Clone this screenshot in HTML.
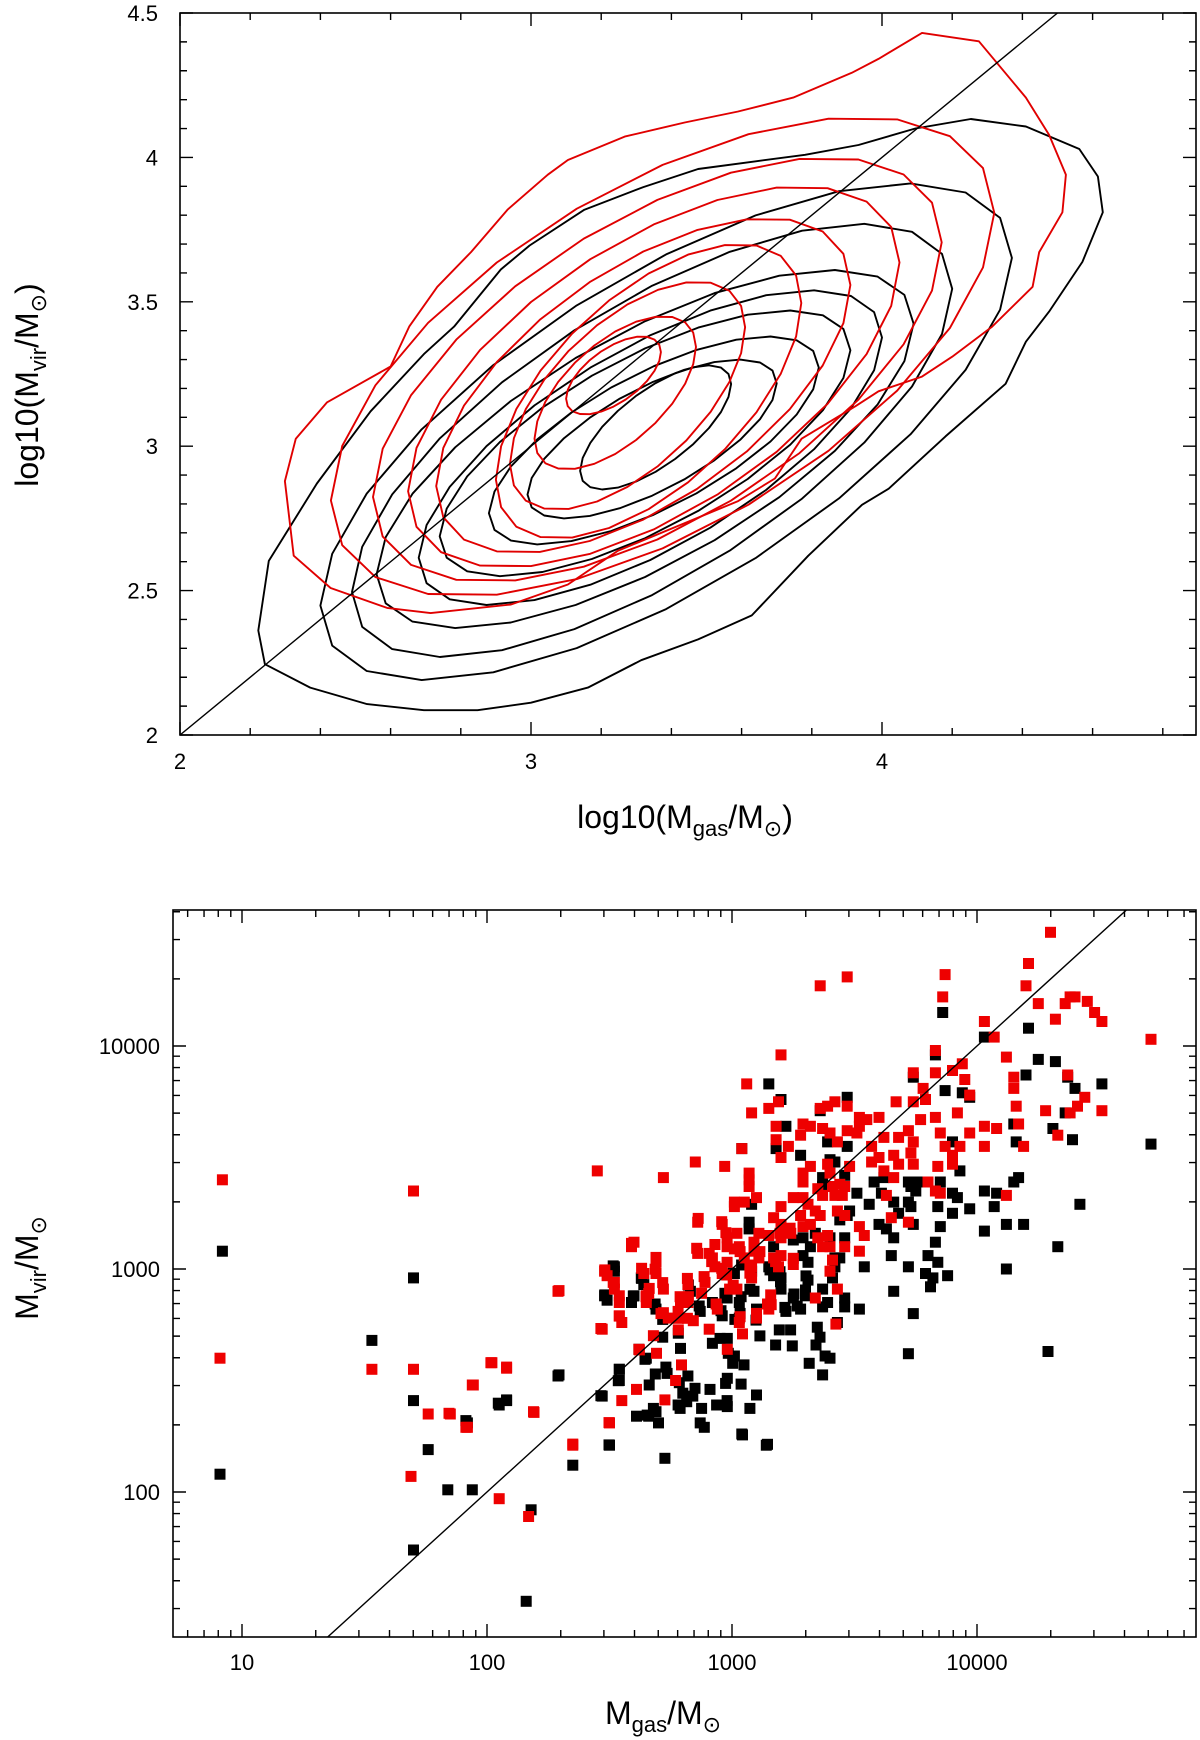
<!DOCTYPE html>
<html><head><meta charset="utf-8"><style>
html,body{margin:0;padding:0;background:#fff;}
svg{display:block;font-family:"Liberation Sans",sans-serif;}
</style></head><body>
<svg id="fig" width="1200" height="1740" viewBox="0 0 1200 1740" xmlns="http://www.w3.org/2000/svg">
<defs>
<clipPath id="clipTop"><rect x="180" y="13" width="1016" height="722"/></clipPath>
<clipPath id="clipBot"><rect x="173" y="910" width="1023" height="727"/></clipPath>
</defs>
<g id="panelTop"></g>
<g id="panelBot"></g>
</svg>
<script>
// ---------- TOP PANEL DATA (log10 masses) ----------
const blackOuterX=[2.242,2.371,2.533,2.695,2.848,3.000,3.162,3.314,3.476,3.629,3.790,3.943,4.019,4.181,4.352,4.410,4.476,4.571,4.629,4.615,4.562,4.410,4.253,4.095,3.933,3.781,3.638,3.476,3.320,3.152,2.996,2.914,2.781,2.695,2.543,2.390,2.253,2.223];
const blackOuterY=[2.245,2.164,2.107,2.086,2.086,2.112,2.164,2.259,2.331,2.414,2.621,2.797,2.853,3.034,3.216,3.362,3.466,3.638,3.810,3.934,4.029,4.107,4.133,4.100,4.043,4.009,3.986,3.960,3.897,3.819,3.695,3.612,3.414,3.319,3.121,2.871,2.603,2.362];
const redOuterX=[2.324,2.299,2.330,2.419,2.600,2.653,2.733,2.829,2.933,3.048,3.105,3.267,3.438,3.590,3.747,3.914,3.990,4.114,4.276,4.410,4.476,4.524,4.514,4.448,4.429,4.314,4.200,4.114,3.990,3.924,3.771,3.695,3.590,3.419,3.248,3.105,2.943,2.714,2.590,2.429];
const redOuterY=[2.621,2.879,3.026,3.152,3.276,3.414,3.552,3.672,3.819,3.940,3.991,4.072,4.121,4.159,4.207,4.293,4.341,4.431,4.402,4.207,4.078,3.940,3.810,3.672,3.552,3.414,3.310,3.241,3.190,3.138,3.026,2.888,2.810,2.724,2.638,2.521,2.452,2.422,2.440,2.509];
const blackXmin=[2.40,2.49,2.56,2.68,2.74,2.88,2.99,3.14];
const blackXmax=[4.37,4.20,4.09,4.00,3.91,3.82,3.70,3.57];
const blackYmin=[2.19,2.27,2.37,2.45,2.55,2.66,2.75,2.85];
const blackYmax=[3.91,3.77,3.61,3.54,3.47,3.38,3.30,3.28];
const redXmin=[2.43,2.55,2.65,2.73,2.90,2.94,3.01,3.10];
const redXmax=[4.32,4.17,4.05,3.91,3.77,3.61,3.47,3.37];
const redYmin=[2.48,2.53,2.58,2.63,2.68,2.78,2.92,3.11];
const redYmax=[4.14,4.00,3.90,3.79,3.70,3.57,3.45,3.38];
const blackTilt=0.70, redTilt=0.60;
const topXTicks=[2,3,4];
const topYTicks=[2,2.5,3,3.5,4,4.5];
const topYTickLabels=["2","2.5","3","3.5","4","4.5"];

// ---------- BOTTOM PANEL DATA (log10 of M_gas, M_vir) ----------
const redLogGas=[4.30,4.21,4.20,4.25,4.36,4.40,4.32,3.87,3.86,3.47,3.36,4.03,4.07,3.83,4.12,3.20,3.06,4.15,4.15,4.16,4.17,4.19,4.28,4.37,4.38,4.33,4.03,4.03,4.08,4.12,3.94,3.95,3.97,3.92,3.97,3.93,3.90,3.78,3.74,3.83,3.67,3.74,3.79,3.77,3.83,3.85,3.87,3.90,3.90,3.84,3.72,3.68,3.74,3.73,3.66,3.68,3.74,3.66,3.62,3.60,3.57,3.57,3.62,3.80,3.83,3.85,3.63,3.65,3.72,3.52,3.55,3.60,3.52,3.51,3.47,3.47,3.43,3.40,3.37,3.32,3.29,3.28,3.42,3.39,3.36,3.18,3.18,3.20,3.23,3.19,3.15,3.08,3.04,2.97,2.85,2.72,3.07,3.07,3.07,3.10,3.01,3.01,3.05,3.20,3.17,3.25,3.29,3.29,3.29,3.32,3.39,3.40,3.35,3.37,3.41,3.44,3.46,3.42,3.45,3.48,3.43,3.46,3.31,3.34,3.28,3.36,3.32,3.29,3.20,3.24,3.20,3.11,3.15,3.09,3.02,2.98,2.93,2.96,2.86,3.03,3.01,2.98,3.05,3.09,3.11,2.92,2.86,2.93,2.98,2.96,2.99,3.02,3.08,3.08,3.17,3.20,3.19,3.25,3.35,3.37,3.39,3.40,3.46,3.52,3.54,3.52,3.41,3.40,3.43,3.34,3.16,3.15,3.10,3.03,2.89,2.82,2.79,2.82,2.78,2.71,2.74,2.66,2.65,2.72,2.69,2.69,2.64,2.59,2.52,2.49,2.54,2.55,2.94,
0.92,0.91,1.70,1.53,1.70,1.76,1.85,1.92,1.94,2.02,2.08,2.19,1.69,2.05,2.17,2.29,2.35,2.48,2.50,2.60,2.45,2.52,2.54,2.54,2.47,2.65,2.62,2.77,2.61,2.55,
4.71,4.48,4.51,4.38,4.45,4.41,4.51,4.44];
const redLogVir=[4.51,4.37,4.27,4.19,4.19,4.22,4.12,4.32,4.22,4.31,4.27,4.11,4.04,3.98,3.95,3.96,3.83,3.86,3.81,3.73,3.65,3.55,3.71,3.87,3.70,3.60,3.64,3.55,3.63,3.33,3.92,3.85,3.78,3.70,3.61,3.55,3.89,3.81,3.88,3.88,3.75,3.75,3.76,3.67,3.68,3.61,3.55,3.51,3.47,3.46,3.62,3.59,3.57,3.52,3.51,3.47,3.47,3.41,3.44,3.50,3.48,3.55,3.59,3.39,3.35,3.34,3.33,3.23,3.21,3.68,3.67,3.68,3.64,3.61,3.62,3.73,3.57,3.61,3.63,3.64,3.65,3.60,3.75,3.73,3.72,3.64,3.58,3.50,3.55,3.75,3.72,3.70,3.54,3.46,3.48,3.41,3.43,3.40,3.37,3.32,3.30,3.28,3.30,3.28,3.23,3.32,3.32,3.43,3.39,3.46,3.47,3.43,3.36,3.33,3.37,3.38,3.37,3.33,3.33,3.46,3.26,3.24,3.29,3.26,3.24,3.24,3.20,3.19,3.20,3.16,3.14,3.16,3.15,3.12,3.16,3.14,3.11,3.20,3.21,3.10,3.09,3.10,3.05,3.08,3.05,3.05,3.07,3.01,3.03,2.98,2.91,2.91,3.01,2.96,3.05,3.06,3.01,3.02,3.14,3.10,3.15,3.10,3.10,3.19,3.15,3.08,3.04,2.99,2.91,2.87,2.84,2.82,2.78,2.76,2.94,2.93,2.85,2.85,2.81,2.80,2.78,2.89,2.85,2.91,3.03,2.98,2.98,3.10,2.91,2.97,2.85,2.76,2.82,
3.40,2.60,3.35,2.55,2.55,2.35,2.35,2.29,2.48,2.58,2.56,2.36,2.07,1.97,1.89,2.90,2.21,2.99,2.31,3.12,3.44,2.94,2.88,2.79,2.73,2.88,2.64,2.50,2.46,2.41,
4.03,4.15,4.11,4.22,4.20,3.73,3.71,3.77];
const blackLogGas=[3.86,4.21,4.03,4.25,4.32,4.20,4.40,4.37,4.31,4.36,4.39,4.42,4.33,4.12,4.19,4.12,4.03,4.08,4.03,4.07,4.15,4.17,4.16,4.15,3.97,3.93,3.92,3.90,3.90,3.84,3.85,3.90,3.94,3.97,3.87,3.83,3.74,3.85,3.83,3.80,3.84,3.88,3.79,3.82,3.81,3.74,3.72,3.66,3.65,3.66,3.63,3.60,3.74,3.73,3.72,3.73,3.75,3.72,3.76,3.66,3.68,3.62,3.61,3.58,3.56,3.51,3.54,3.52,3.46,3.48,3.44,3.46,3.46,3.43,3.42,3.41,3.39,3.37,3.37,3.31,3.30,3.28,3.25,3.22,3.20,3.20,3.17,3.15,3.17,3.25,3.29,3.31,3.29,3.32,3.34,3.40,3.42,3.44,3.47,3.47,3.47,3.42,3.40,3.46,3.39,3.37,3.37,3.36,3.28,3.20,3.22,3.18,3.15,3.04,3.08,3.07,3.07,3.08,3.09,3.03,3.10,3.03,3.01,2.98,2.87,2.96,2.83,2.92,2.69,2.64,2.59,2.52,2.49,
0.92,0.91,1.53,1.70,1.70,1.76,1.92,2.05,2.08,2.29,2.35,2.47,2.50,2.54,2.54,2.52,2.48,2.60,2.63,2.62,2.65,2.66,1.70,1.84,1.94,2.18,2.16,
2.91,2.98,3.04,3.14,2.84,2.87,3.01,3.72,3.38,2.61,2.70,2.73,2.78,2.82,4.51,4.71,4.29];
const blackLogVir=[4.15,4.08,4.04,3.94,3.93,3.87,3.81,3.86,3.63,3.70,3.58,3.29,3.10,3.00,3.20,3.20,3.17,3.34,3.35,3.28,3.39,3.41,3.57,3.65,3.27,3.44,3.32,3.34,3.25,3.28,3.39,3.57,3.79,3.77,3.80,3.96,3.86,3.19,3.12,3.06,3.03,2.97,2.98,2.96,2.92,2.80,3.01,2.90,3.06,3.14,3.18,3.20,3.20,3.28,3.30,3.37,3.35,3.39,3.39,3.30,3.25,3.41,3.34,3.39,3.29,3.34,3.01,2.82,3.14,3.26,3.22,2.87,2.83,2.76,3.01,2.96,2.85,2.83,2.91,2.95,2.88,2.82,2.87,2.81,2.91,2.96,2.97,3.01,3.10,3.13,3.06,3.03,3.14,3.10,3.16,3.14,3.05,3.05,3.24,3.77,3.55,3.48,3.49,3.42,3.57,3.41,3.37,3.71,3.51,3.76,3.64,3.54,3.83,3.54,3.29,3.21,3.18,2.99,2.90,2.85,2.82,2.78,2.98,2.87,2.81,2.79,2.90,2.85,2.82,2.93,2.85,2.99,2.86,
3.08,2.08,2.68,2.96,2.41,2.19,2.31,2.39,2.41,2.52,2.12,2.43,2.21,2.55,2.50,3.01,2.88,2.88,2.96,2.64,2.60,2.34,1.74,2.01,2.01,1.92,1.51,
2.46,2.41,2.26,2.21,2.43,2.31,2.61,2.62,2.61,2.34,2.31,2.56,2.39,2.52,3.83,3.56,2.63];
// additional points read from the lower-middle of the cloud
const blackLowGas=[2.717,2.781,2.717,2.790,2.645,2.540,2.536,2.687,2.735,2.662,2.785,2.849,2.799,2.815,2.788,2.876,2.937,2.981,3.073,3.100,3.037,2.974,2.981,3.003,3.049,2.679,2.654,2.690,2.887,3.043,3.145,2.498,2.726,2.465,2.294,2.046,2.080,1.914,2.920,2.951,2.981,2.985,3.114,3.193,3.239,3.178,3.246,3.315,3.370,3.400,3.343,3.359,3.348,3.012,3.098,3.033,3.216,3.266,2.866,2.955,2.597,2.481,2.631,2.515,2.686,2.822,2.971,3.037,3.073,3.198,3.253,3.302,3.300,3.005,3.039,3.155,3.196];
const blackLowVir=[2.774,2.712,2.694,2.644,2.595,2.550,2.499,2.529,2.532,2.480,2.490,2.465,2.443,2.405,2.375,2.375,2.390,2.383,2.375,2.435,2.484,2.487,2.510,2.577,2.570,2.375,2.345,2.360,2.290,2.256,2.214,2.211,2.151,2.432,2.525,2.398,2.413,2.320,2.667,2.689,2.689,2.622,2.700,2.727,2.727,2.659,2.655,2.577,2.525,2.600,2.659,2.694,2.739,2.774,2.771,2.801,2.828,2.834,2.834,2.813,2.879,2.884,2.958,3.014,2.843,2.928,2.891,2.876,2.909,2.943,2.888,2.969,2.906,2.981,3.018,2.996,2.988];
const redLowGas=[2.540,2.465,2.679,2.622,2.692,2.794,2.907,3.043,2.981,3.033,3.100,2.781,2.781,2.818,2.842,2.720,2.935,2.016,2.080,1.944,1.845,1.914,2.192,2.498,2.350,2.726,3.145,3.424,
2.590,2.690,2.686,2.631,2.481,2.515,2.294,2.662,2.649,2.717,2.818,2.788,2.822,2.876,2.886,2.856,2.907,2.917,2.958,2.978,3.005,2.975,3.033,3.073,3.073,3.114,3.178,3.250,3.196,3.237,3.158,2.862,2.958];
const redLowVir=[2.789,2.733,2.701,2.637,2.622,2.570,2.730,2.709,2.640,2.786,2.801,2.727,2.779,2.779,2.768,2.804,2.843,2.580,2.555,2.480,2.353,2.290,2.357,2.311,2.215,2.413,2.843,2.753,
3.115,3.052,2.999,3.003,2.996,2.940,2.903,2.913,2.876,2.939,2.958,2.876,2.876,2.891,2.966,3.093,3.070,3.033,3.003,2.973,2.928,3.163,3.078,3.018,2.981,3.078,3.033,3.048,3.160,3.183,2.884,3.227,3.212];
const botXTicks=[1,2,3,4];
const botXTickLabels=["10","100","1000","10000"];
const botYTicks=[2,3,4];
const botYTickLabels=["100","1000","10000"];

// ---------- axis functions ----------
const TL=180,TR=1196,TT=13,TB=735;
function tx(v){return 180+(v-2)*351;}
function ty(v){return 735-(v-2)*288.8;}
const BL=173,BR=1196,BT=910,BB=1637;
function bx(l){return 242+(l-1)*245;}
function by(l){return 1046-(l-4)*223;}

const NS="http://www.w3.org/2000/svg";
function mk(tag,attrs,parent){const e=document.createElementNS(NS,tag);for(const k in attrs)e.setAttribute(k,attrs[k]);parent.appendChild(e);return e;}
const gTop=document.getElementById('panelTop'), gBot=document.getElementById('panelBot');

// ---- top panel frame & ticks ----
const tf=mk('rect',{x:TL,y:TT,width:TR-TL,height:TB-TT,fill:'none',stroke:'#000','stroke-width':1.6},gTop);


let tk='';
for(let v=2;v<=4.9001;v+=0.2){const x=tx(v);const maj=Math.abs(v-Math.round(v))<1e-6;const L=maj?13:7;tk+=`M${x},${TB}v${-L}M${x},${TT}v${L}`;}
for(let v=2;v<=4.5001;v+=0.1){const y=ty(v);const maj=Math.abs(v*2-Math.round(v*2))<1e-6;const L=maj?13:7;tk+=`M${TL},${y}h${L}M${TR},${y}h${-L}`;}
const tt=mk('path',{d:tk,stroke:'#000','stroke-width':1.4,fill:'none'},gTop);


topXTicks.forEach(v=>{const t=mk('text',{x:tx(v),y:769,'font-size':22,'text-anchor':'middle'},gTop);t.textContent=String(v);

});
topYTicks.forEach((v,i)=>{const t=mk('text',{x:158,y:ty(v)+8,'font-size':22,'text-anchor':'end'},gTop);t.textContent=topYTickLabels[i];

});

// contours
const cg=mk('g',{'clip-path':'url(#clipTop)',fill:'none','stroke-width':1.9,'stroke-linejoin':'round'},gTop);


function polyFrom(xs,ys){return xs.map((x,i)=>tx(x).toFixed(1)+','+ty(ys[i]).toFixed(1)).join(' ');}
function boxEllipse(x0,x1,y0,y1,rho){const cx=(x0+x1)/2,cy=(y0+y1)/2,wx=(x1-x0)/2,wy=(y1-y0)/2,ph=Math.acos(rho);const pts=[];
for(let k=0;k<24;k++){const t=k/24*2*Math.PI;pts.push(tx(cx+wx*Math.cos(t)).toFixed(1)+','+ty(cy+wy*Math.cos(t-ph)).toFixed(1));}return pts.join(' ');}
let p=mk('polygon',{points:polyFrom(blackOuterX,blackOuterY),stroke:'#000'},cg);


blackXmin.forEach((v,i)=>{const q=mk('polygon',{points:boxEllipse(v,blackXmax[i],blackYmin[i],blackYmax[i],blackTilt),stroke:'#000'},cg);

});
p=mk('polygon',{points:polyFrom(redOuterX,redOuterY),stroke:'#e00000'},cg);


redXmin.forEach((v,i)=>{const q=mk('polygon',{points:boxEllipse(v,redXmax[i],redYmin[i],redYmax[i],redTilt),stroke:'#e00000'},cg);

});
const d1=mk('line',{x1:tx(2),y1:ty(2),x2:tx(4.5),y2:ty(4.5),stroke:'#000','stroke-width':1.4},cg);



// top labels
let lab=mk('text',{x:685,y:828,'font-size':32,'text-anchor':'middle'},gTop);
lab.innerHTML='log10(M<tspan font-size="22" dy="8">gas</tspan><tspan dy="-8">/M</tspan><tspan font-size="22" dy="8">⊙</tspan><tspan dy="-8">)</tspan>';


lab=mk('text',{x:0,y:0,'font-size':32,'text-anchor':'middle',transform:'translate(38,385) rotate(-90)'},gTop);
lab.innerHTML='log10(M<tspan font-size="22" dy="8">vir</tspan><tspan dy="-8">/M</tspan><tspan font-size="22" dy="8">⊙</tspan><tspan dy="-8">)</tspan>';



// ---- bottom panel ----
const bf=mk('rect',{x:BL,y:BT,width:BR-BL,height:BB-BT,fill:'none',stroke:'#000','stroke-width':1.6},gBot);


let bk='';
for(let d=0;d<=4;d++){for(let m=1;m<=9;m++){const l=d+Math.log10(m);const x=bx(l);if(x<BL||x>BR)continue;const L=m===1?13:7;bk+=`M${x},${BB}v${-L}M${x},${BT}v${L}`;}}
for(let d=1;d<=4;d++){for(let m=1;m<=9;m++){const l=d+Math.log10(m);const y=by(l);if(y<BT||y>BB)continue;const L=m===1?13:7;bk+=`M${BL},${y}h${L}M${BR},${y}h${-L}`;}}
const bt=mk('path',{d:bk,stroke:'#000','stroke-width':1.4,fill:'none'},gBot);


botXTicks.forEach((v,i)=>{const t=mk('text',{x:bx(v),y:1670,'font-size':22,'text-anchor':'middle'},gBot);t.textContent=botXTickLabels[i];

});
botYTicks.forEach((v,i)=>{const t=mk('text',{x:160,y:by(v)+8,'font-size':22,'text-anchor':'end'},gBot);t.textContent=botYTickLabels[i];

});

const sg=mk('g',{'clip-path':'url(#clipBot)'},gBot);


const S=11;
function drawPts(gas,vir,color,name){gas.forEach((g,i)=>{const r=mk('rect',{x:(bx(g)-S/2).toFixed(1),y:(by(vir[i])-S/2).toFixed(1),width:S,height:S,fill:color},sg);

});}
drawPts(blackLogGas,blackLogVir,'#000','black-point');
drawPts(blackLowGas,blackLowVir,'#000','black-point');
drawPts(redLogGas,redLogVir,'#ee0000','red-point');
drawPts(redLowGas,redLowVir,'#ee0000','red-point');
const d2=mk('line',{x1:bx(1.3),y1:by(1.3),x2:bx(4.7),y2:by(4.7),stroke:'#000','stroke-width':1.4},sg);



lab=mk('text',{x:663,y:1724,'font-size':32,'text-anchor':'middle'},gBot);
lab.innerHTML='M<tspan font-size="22" dy="8">gas</tspan><tspan dy="-8">/M</tspan><tspan font-size="22" dy="8">⊙</tspan>';


lab=mk('text',{x:0,y:0,'font-size':32,'text-anchor':'middle',transform:'translate(38,1268) rotate(-90)'},gBot);
lab.innerHTML='M<tspan font-size="22" dy="8">vir</tspan><tspan dy="-8">/M</tspan><tspan font-size="22" dy="8">⊙</tspan>';


</script>
</body></html>
